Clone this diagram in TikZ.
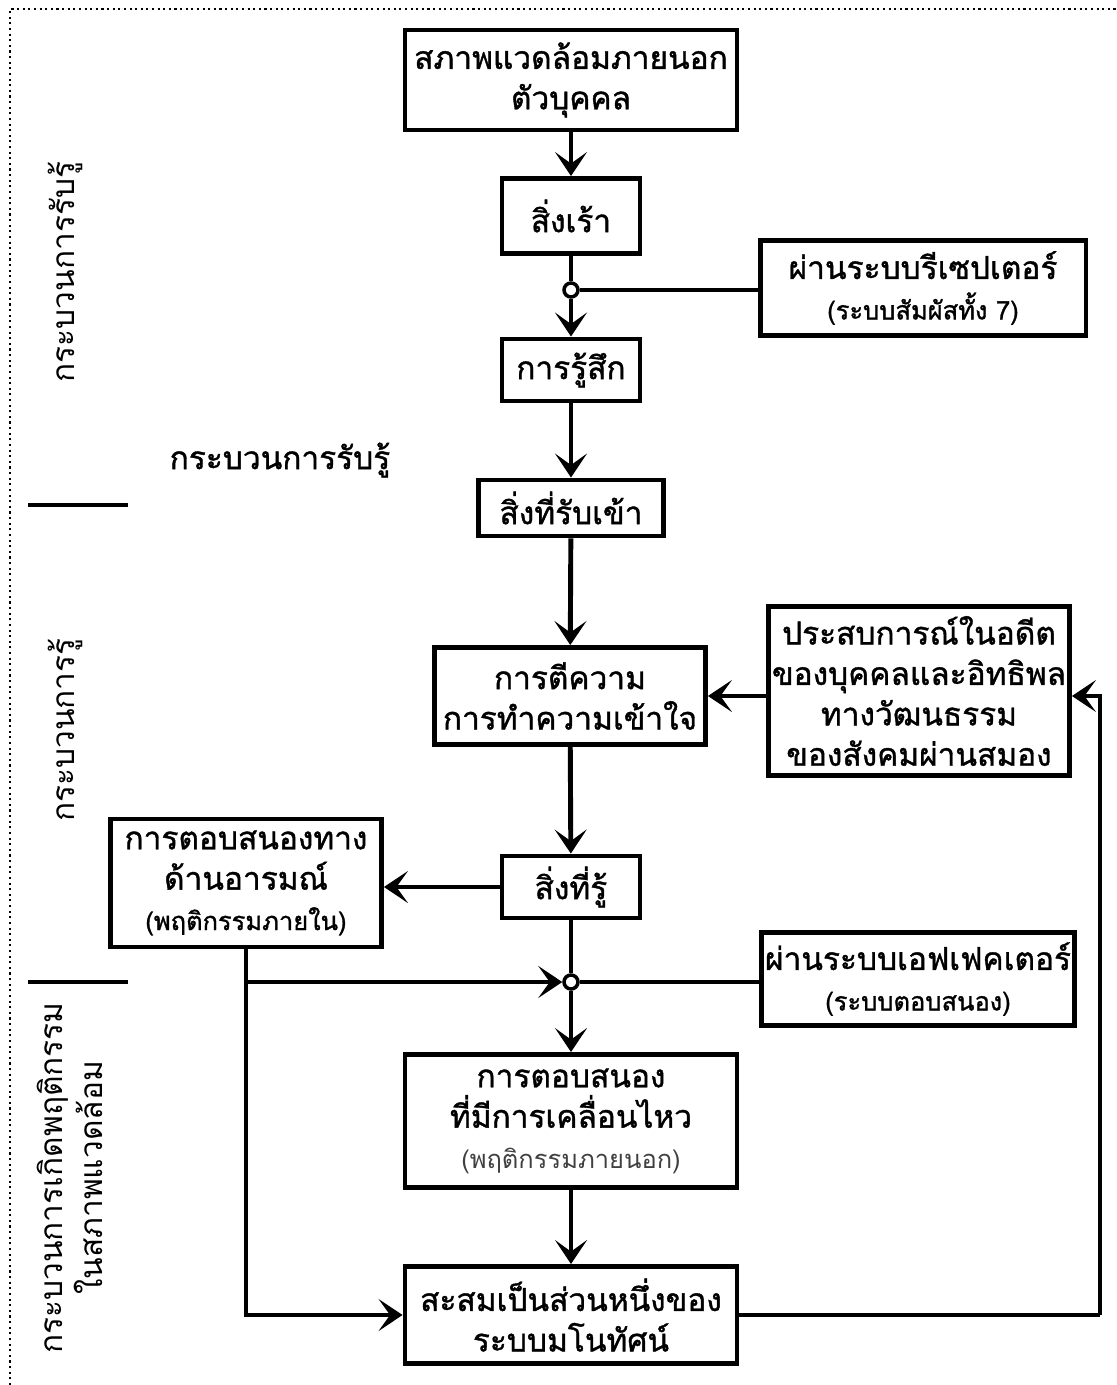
\documentclass[tikz,border=0pt]{standalone}
\usepackage{fontspec}
\setmainfont[Script=Thai]{Loma}
\newfontfamily\boxfont[Script=Thai, FakeBold=1.2]{Loma}
\usepackage{tikz}
\usetikzlibrary{arrows.meta}

\newcommand{\subtxt}{\fontsize{14.5}{17}\selectfont}

\begin{document}
\begin{tikzpicture}[x=0.02cm, y=-0.02cm]
    \tikzstyle{box} = [draw, line width=2.8pt, align=center, inner sep=2pt, font=\boxfont\fontsize{18}{23}\selectfont]
    \tikzstyle{jn} = [circle, draw, fill=white, line width=2pt, inner sep=0pt, minimum size=0.28cm]
    \tikzstyle{ln} = [line width=2.8pt]
    \tikzstyle{arr} = [line width=2.8pt, -{Stealth[length=4.8mm, width=6.4mm, inset=2.3mm, line width=2.6pt]}]
    \tikzstyle{side} = [rotate=90, align=center, font=\fontsize{18}{23}\selectfont]

    \useasboundingbox (0,0) rectangle (1116,1385);

    % Dotted frame (top and left only)
    \draw[dotted, line width=1.2pt] (10,1385) -- (10,9) -- (1116,9);

    % Main column
    \node[box, minimum width=6.64cm, minimum height=2.0cm] (env) at (571,80) {สภาพแวดล้อมภายนอก\\ตัวบุคคล};
    \node[box, minimum width=2.76cm, minimum height=1.5cm] (stim) at (571,216) {สิ่งเร้า};
    \node[jn] (j1) at (571,290) {};
    \node[box, minimum width=2.76cm, minimum height=1.24cm] (feel) at (571,370) {การรู้สึก};
    \node[box, minimum width=3.7cm, minimum height=1.12cm] (input) at (571,508) {สิ่งที่รับเข้า};
    \node[box, minimum width=5.42cm, minimum height=1.94cm] (interp) at (570,696) {การตีความ\\การทำความเข้าใจ};
    \node[box, minimum width=2.76cm, minimum height=1.24cm] (known) at (571,887) {สิ่งที่รู้};
    \node[jn] (j2) at (571,982) {};
    \node[box, minimum width=6.64cm, minimum height=2.66cm] (motor) at (571,1121) {การตอบสนอง\\ที่มีการเคลื่อนไหว\\{\rmfamily\subtxt\color{darkgray}(พฤติกรรมภายนอก)}};
    \node[box, minimum width=6.64cm, minimum height=1.94cm] (concept) at (571,1315) {สะสมเป็นส่วนหนึ่งของ\\ระบบมโนทัศน์};

    % Side boxes
    \node[box, minimum width=6.52cm, minimum height=1.9cm] (recp) at (923,288) {ผ่านระบบรีเซปเตอร์\\{\subtxt(ระบบสัมผัสทั้ง 7)}};
    \node[box, minimum width=5.4cm, minimum height=3.38cm] (past) at (919,691) {ประสบการณ์ในอดีต\\ของบุคคลและอิทธิพล\\ทางวัฒนธรรม\\ของสังคมผ่านสมอง};
    \node[box, minimum width=5.42cm, minimum height=2.56cm] (emo) at (246,883) {การตอบสนองทาง\\ด้านอารมณ์\\{\subtxt(พฤติกรรมภายใน)}};
    \node[box, minimum width=5.96cm, minimum height=1.86cm] (effc) at (918,979) {ผ่านระบบเอฟเฟคเตอร์\\{\subtxt(ระบบตอบสนอง)}};

    % Labels
    \node[font=\boxfont\fontsize{18}{23}\selectfont] (title) at (280,460) {กระบวนการรับรู้};
    \node[side] (lab1) at (65,272) {กระบวนการรับรู้};
    \node[side] (lab2) at (65,730) {กระบวนการรู้};
    \node[side] (lab3) at (70,1178) {กระบวนการเกิดพฤติกรรม\\ในสภาพแวดล้อม};

    % Section dividers
    \draw[ln] (28,505) -- (128,505);
    \draw[ln] (28,982) -- (128,982);

    % Connectors
    \draw[arr] (env) -- (stim);
    \draw[ln] (stim) -- (j1);
    \draw[arr] (j1) -- (feel);
    \draw[ln] (j1) -- (j1 -| recp.west);
    \draw[arr] (feel) -- (input);
    \draw[arr] (input) -- (interp);
    \draw[arr] (past.west |- interp) -- (interp.east);
    \draw[arr] (interp) -- (known);
    \draw[arr] (known.west) -- (known.west -| emo.east);
    \draw[ln] (known) -- (j2);
    \draw[arr] (j2) -- (motor);
    \draw[ln] (j2) -- (j2 -| effc.west);
    \draw[arr] (motor) -- (concept);

    \coordinate (br) at (emo.south |- j2);
    \draw[arr] (br) -- (j2);
    \draw[arr] (emo.south) |- (concept.west);

    \coordinate (fb) at (1100,1315);
    \draw[ln] (concept.east) -- (fb);
    \draw[arr] (fb) |- (past.east |- interp);
\end{tikzpicture}
\end{document}
